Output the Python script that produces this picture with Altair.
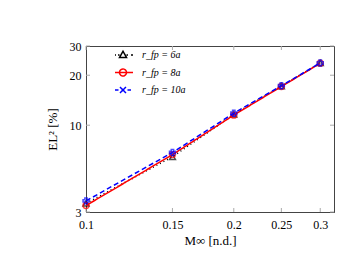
import altair as alt
import pandas as pd

mach = [0.1, 0.15, 0.2, 0.25, 0.3]
err_6a = [3.38, 6.45, 11.6, 17.2, 23.7]
err_8a = [3.28, 6.65, 11.5, 17.1, 23.6]
err_10a = [3.50, 6.85, 11.8, 17.3, 23.7]
series_names = ["r_fp = 6a", "r_fp = 8a", "r_fp = 10a"]
marker_shapes = ["triangle-up", "circle", "cross"]
line_dashes = [[1, 3], [1, 0], [5, 3]]
x_ticks = [0.1, 0.15, 0.2, 0.25, 0.3]
y_ticks = [3, 10, 20, 30]

rows = []
for name, vals in zip(series_names, [err_6a, err_8a, err_10a]):
    for m, e in zip(mach, vals):
        rows.append({"M": m, "E": e, "series": name})
df = pd.DataFrame(rows)
xt = pd.DataFrame({"M": x_ticks})
yt = pd.DataFrame({"E": y_ticks})

font = "Liberation Serif"
W, H = 248, 166
color_scale = alt.Scale(domain=series_names, range=["black", "red", "blue"])

tri = "M0,-0.75L0.7,0.5L-0.7,0.5Z"
circ = "M0.7,0A0.7,0.7 0 1,1 -0.7,0A0.7,0.7 0 1,1 0.7,0Z"
xmark = "M-0.6,-0.6L0.6,0.6M-0.6,0.6L0.6,-0.6"
leg_paths = [
    "M-1.6,0H-1.4M-1.0,0H-0.7M0.7,0H1.0M1.6,0H2.0" + tri,
    "M-1.6,0H2.0" + circ,
    "M-1.6,0H-0.9M0.9,0H1.6" + xmark,
]
leg_shape = alt.Scale(domain=series_names, range=leg_paths)

xs = alt.Scale(type="log", domain=[0.1, 0.32], nice=False)
ys = alt.Scale(type="log", domain=[3, 30], nice=False)
x = alt.X("M:Q", scale=xs,
          axis=alt.Axis(values=x_ticks, title="M∞ [n.d.]", grid=False, ticks=False,
                        labelFlush=False, labelPadding=7))
y = alt.Y("E:Q", scale=ys,
          axis=alt.Axis(values=y_ticks, title="EL² [%]", grid=False, ticks=False,
                        labelFlush=False, labelPadding=5))

legend = alt.Legend(title=None, orient="none", legendX=31, legendY=3, padding=0,
                    labelFontStyle="italic", symbolStrokeWidth=1.5, symbolSize=100,
                    labelFontSize=10, rowPadding=4.5, labelOffset=13,
                    symbolOpacity=1, symbolFillColor="transparent", symbolDash=[1, 0])

data_layers = []
for name, shp, dash in zip(series_names, marker_shapes, line_dashes):
    base = alt.Chart(df).transform_filter(alt.datum.series == name)
    data_layers.append(
        base.mark_line(strokeWidth=1.5, strokeDash=dash)
        .encode(x=x, y=y, color=alt.Color("series:N", scale=color_scale, legend=legend))
    )
    data_layers.append(
        base.mark_point(filled=False, strokeWidth=1.5, size=35, shape=shp)
        .encode(x=x, y=y, color=alt.Color("series:N", scale=color_scale, legend=legend))
    )
leg_layer = alt.Chart(df).mark_point(opacity=0, filled=False).encode(
    x=x, y=y,
    color=alt.Color("series:N", scale=color_scale, legend=legend),
    shape=alt.Shape("series:N", scale=leg_shape, legend=legend),
)

tick_color = "#aaa"
xb = alt.Chart(xt).mark_rule(color=tick_color).encode(x=alt.X("M:Q", scale=xs), y=alt.value(H), y2=alt.value(H - 4))
xtop = alt.Chart(xt).mark_rule(color=tick_color).encode(x=alt.X("M:Q", scale=xs), y=alt.value(0), y2=alt.value(4))
yl = alt.Chart(yt).mark_rule(color=tick_color).encode(y=alt.Y("E:Q", scale=ys), x=alt.value(0), x2=alt.value(4))
yr = alt.Chart(yt).mark_rule(color=tick_color).encode(y=alt.Y("E:Q", scale=ys), x=alt.value(W), x2=alt.value(W - 4))

chart = alt.layer(xb, xtop, yl, yr, *data_layers, leg_layer).properties(
    width=W, height=H,
    autosize=alt.AutoSizeParams(type="none"),
    padding={"left": 78, "top": 38, "right": 13, "bottom": 50},
).configure_view(stroke="#444", strokeWidth=1).configure_axis(
    labelFont=font, titleFont=font, labelFontSize=12, titleFontSize=13,
    labelColor="black", titleColor="black", domainColor="#444",
    titleFontWeight="normal",
).configure_axisX(titlePadding=4).configure_axisY(titlePadding=10).configure_legend(
    labelFont=font
)

chart.save("out.html", embed_options={"renderer": "svg", "actions": False})
